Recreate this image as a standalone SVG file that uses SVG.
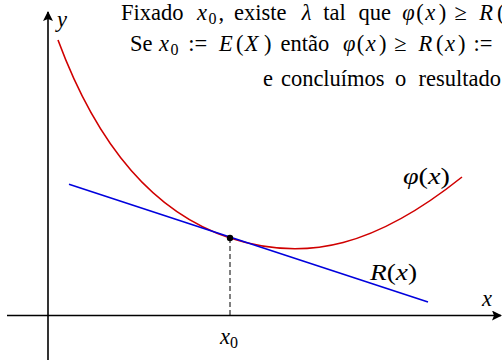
<svg xmlns="http://www.w3.org/2000/svg" width="502" height="360" viewBox="0 0 502 360">
<defs>
<style>
text{font-family:"Liberation Serif","Times New Roman",serif;font-size:22.5px;fill:#000}
.i{font-style:italic}
.s{font-size:16px}
.axis{stroke:#000;stroke-width:1.6;fill:none}
</style>
<marker id="arr" viewBox="0 0 10 10" refX="9" refY="5" markerWidth="10" markerHeight="10" markerUnits="userSpaceOnUse" orient="auto">
<path d="M0,0 L10,5 L0,10 L2,5 Z" fill="#000"/>
</marker>
</defs>
<rect width="502" height="360" fill="#fff"/>
<g id="axes">
<line class="axis" x1="7" y1="315.5" x2="501" y2="315.5" marker-end="url(#arr)"/>
<line class="axis" x1="48" y1="360" x2="48" y2="12" marker-end="url(#arr)"/>
<text class="i" x="57" y="27">y</text>
<text class="i" x="482" y="306">x</text>
</g>
<g id="connectors">
<path id="phi-curve" d="M58,40 C98,148 154.8,213.3 230,238 C307.4,263.3 377,245 462,177" fill="none" stroke="#d00000" stroke-width="1.6"/>
<line id="tangent" x1="69" y1="184.3" x2="428" y2="302.1" stroke="#0000dd" stroke-width="1.6"/>
<line id="drop" x1="230" y1="238" x2="230" y2="315" stroke="#000" stroke-width="1" stroke-dasharray="5,3"/>
</g>
<g id="point-x0">
<circle cx="230" cy="238" r="3.2" fill="#000"/>
<text x="220" y="344"><tspan class="i">x</tspan><tspan class="s" dy="3.5">0</tspan></text>
</g>
<g id="label-phi">
<text x="403" y="184" textLength="47" lengthAdjust="spacingAndGlyphs"><tspan class="i">φ</tspan>(<tspan class="i">x</tspan>)</text>
</g>
<g id="label-R">
<text x="370" y="280" textLength="47" lengthAdjust="spacingAndGlyphs"><tspan class="i">R</tspan>(<tspan class="i">x</tspan>)</text>
</g>
<g id="caption">
<text y="20.3"><tspan x="121">Fixado</tspan><tspan class="i" x="197">x</tspan><tspan class="s" x="208.5" dy="3.5">0</tspan><tspan x="218.5" dy="-3.5">,</tspan><tspan x="234">existe</tspan><tspan class="i" x="301.7">λ</tspan><tspan x="323.2">tal</tspan><tspan x="358.5">que</tspan><tspan class="i" x="402.2">φ</tspan><tspan x="416.2">(</tspan><tspan class="i" x="425.3">x</tspan><tspan x="438.8">)</tspan><tspan x="454.5">≥</tspan><tspan class="i" x="479.3">R</tspan><tspan x="497.1">(</tspan></text>
<text y="51"><tspan x="130">Se</tspan><tspan class="i" x="159">x</tspan><tspan class="s" x="170.5" dy="3.5">0</tspan><tspan x="188.2" dy="-3.5">:</tspan><tspan x="194.6">=</tspan><tspan class="i" x="218.9">E</tspan><tspan x="235.9">(</tspan><tspan class="i" x="244.8">X</tspan><tspan x="263.9">)</tspan><tspan x="280.5">então</tspan><tspan class="i" x="343.1">φ</tspan><tspan x="356.8">(</tspan><tspan class="i" x="365.7">x</tspan><tspan x="378.9">)</tspan><tspan x="394.2">≥</tspan><tspan class="i" x="418.5">R</tspan><tspan x="436">(</tspan><tspan class="i" x="444.9">x</tspan><tspan x="458.1">)</tspan><tspan x="473.4">:</tspan><tspan x="479.8">=</tspan></text>
<text y="86"><tspan x="263">e</tspan><tspan x="280.9">concluímos</tspan><tspan x="395">o</tspan><tspan x="418.5">resultado</tspan></text>
</g>
</svg>
